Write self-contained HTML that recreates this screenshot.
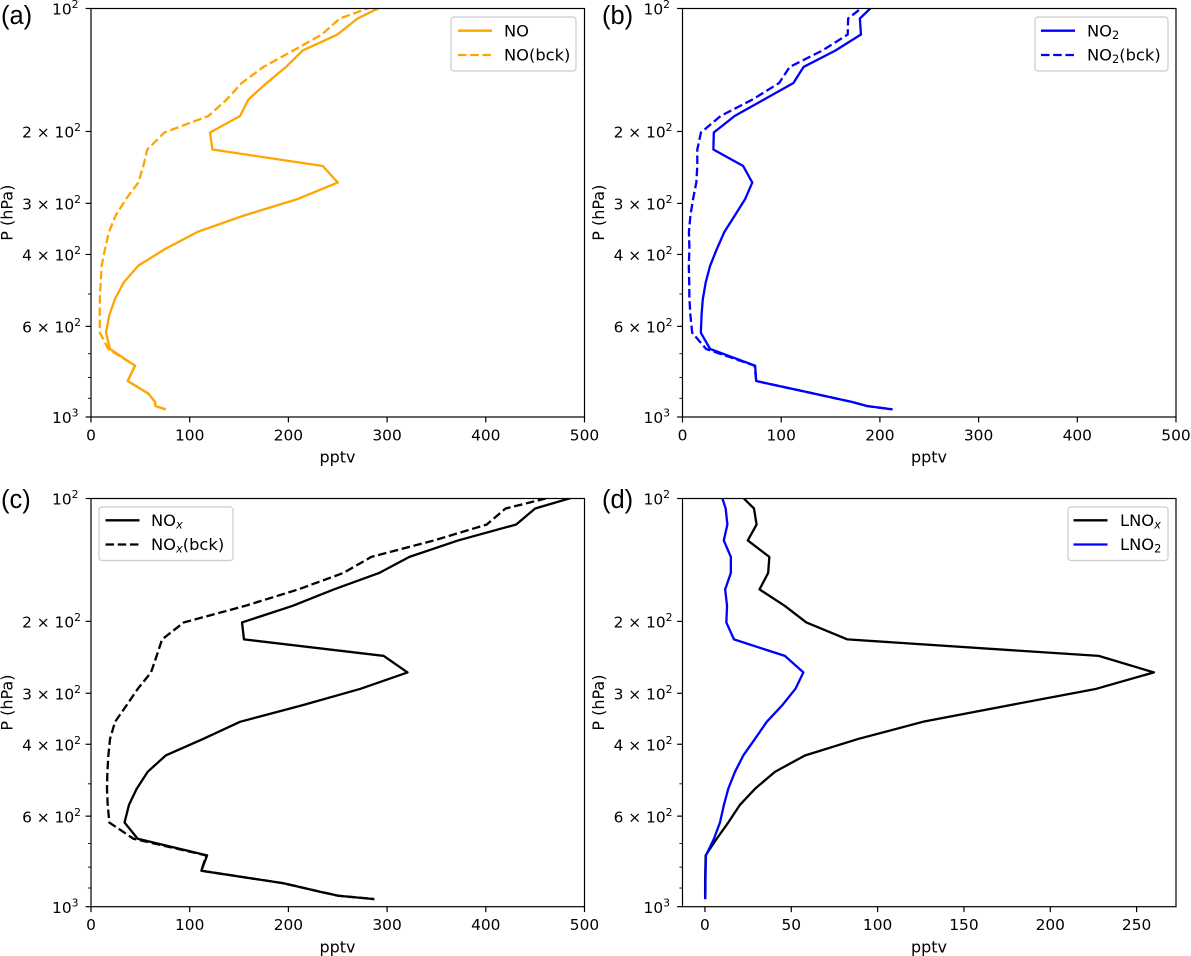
<!DOCTYPE html>
<html lang="en">
<head>
<meta charset="utf-8">
<title>NO, NO2, NOx and LNOx vertical profiles</title>
<style>
html,body{margin:0;padding:0;background:#fff;}
svg{display:block;}
text{font-family:"DejaVu Sans",sans-serif;font-size:15.4px;fill:#000;}
.axis-title{font-size:16px;}
.legend-text{font-size:16.3px;}
.panel-letter{font-family:"Liberation Sans",sans-serif;font-size:25.5px;}
.legend-box{fill:#fff;fill-opacity:.8;stroke:#ccc;stroke-width:1.2;}
.spine{fill:none;stroke:#000;stroke-width:1.2;}
.sub{font-size:11.4px;}
.ital{font-style:italic;}
</style>
</head>
<body>
<svg id="figure" xmlns="http://www.w3.org/2000/svg" width="1191" height="956" viewBox="0 0 1191 956">
  <defs>
    <clipPath id="clip-a"><rect x="91" y="8.5" width="493.5" height="408.5"/></clipPath>
    <clipPath id="clip-b"><rect x="682.5" y="8.5" width="493.5" height="408.5"/></clipPath>
    <clipPath id="clip-c"><rect x="91" y="498.5" width="493.5" height="408.2"/></clipPath>
    <clipPath id="clip-d"><rect x="682.5" y="498.5" width="493.5" height="408.2"/></clipPath>
  </defs>

  <g id="panel-a">
    <text class="panel-letter" x="1" y="24">(a)</text>
    <text class="axis-title" x="337.5" y="462.5" text-anchor="middle">pptv</text>
    <text class="axis-title" transform="translate(12.5 212.7) rotate(-90)" text-anchor="middle">P (hPa)</text>
  </g>
  <g id="panel-b">
    <text class="panel-letter" x="602" y="24">(b)</text>
    <text class="axis-title" x="929" y="462.5" text-anchor="middle">pptv</text>
    <text class="axis-title" transform="translate(604 212.7) rotate(-90)" text-anchor="middle">P (hPa)</text>
  </g>
  <g id="panel-c">
    <text class="panel-letter" x="1" y="508">(c)</text>
    <text class="axis-title" x="337.5" y="952.5" text-anchor="middle">pptv</text>
    <text class="axis-title" transform="translate(12.5 702.6) rotate(-90)" text-anchor="middle">P (hPa)</text>
  </g>
  <g id="panel-d">
    <text class="panel-letter" x="602" y="508">(d)</text>
    <text class="axis-title" x="929" y="952.5" text-anchor="middle">pptv</text>
    <text class="axis-title" transform="translate(604 702.6) rotate(-90)" text-anchor="middle">P (hPa)</text>
  </g>

  <g id="legends">
    <g>
      <rect class="legend-box" x="451" y="17" width="125" height="54" rx="3"/>
      <line x1="458" y1="30.7" x2="492" y2="30.7" stroke="#ffa500" stroke-width="2.3"/>
      <text class="legend-text" x="504" y="36.3">NO</text>
      <line x1="458" y1="55" x2="492" y2="55" stroke="#ffa500" stroke-width="2.3" stroke-dasharray="8.5 3.7"/>
      <text class="legend-text" x="504" y="60.7">NO(bck)</text>
    </g>
    <g>
      <rect class="legend-box" x="1035" y="17" width="133" height="54" rx="3"/>
      <line x1="1041" y1="30.7" x2="1075" y2="30.7" stroke="#0000ff" stroke-width="2.3"/>
      <text class="legend-text" x="1087" y="36.3">NO<tspan class="sub" dy="2.5">2</tspan></text>
      <line x1="1041" y1="55" x2="1075" y2="55" stroke="#0000ff" stroke-width="2.3" stroke-dasharray="8.5 3.7"/>
      <text class="legend-text" x="1087" y="60.7">NO<tspan class="sub" dy="2.5">2</tspan><tspan dy="-2.5">(bck)</tspan></text>
    </g>
    <g>
      <rect class="legend-box" x="99" y="507" width="134" height="53.5" rx="3"/>
      <line x1="105.5" y1="520.3" x2="139.5" y2="520.3" stroke="#000" stroke-width="2.3"/>
      <text class="legend-text" x="151" y="525.8">NO<tspan class="sub ital" dy="2.5">x</tspan></text>
      <line x1="105.5" y1="544.5" x2="139.5" y2="544.5" stroke="#000" stroke-width="2.3" stroke-dasharray="8.5 3.7"/>
      <text class="legend-text" x="151" y="550.2">NO<tspan class="sub ital" dy="2.5">x</tspan><tspan dy="-2.5">(bck)</tspan></text>
    </g>
    <g>
      <rect class="legend-box" x="1068" y="507" width="100" height="53.5" rx="3"/>
      <line x1="1073.5" y1="520.3" x2="1107.5" y2="520.3" stroke="#000" stroke-width="2.3"/>
      <text class="legend-text" x="1120" y="525.8">LNO<tspan class="sub ital" dy="2.5">x</tspan></text>
      <line x1="1073.5" y1="544.5" x2="1107.5" y2="544.5" stroke="#0000ff" stroke-width="2.3"/>
      <text class="legend-text" x="1120" y="550.2">LNO<tspan class="sub" dy="2.5">2</tspan></text>
    </g>
  </g>
</svg>

<script>
// Pressure levels (hPa) shared by all profiles
const pressureLevels = [96.7,105.8,115.8,126.7,139.0,152.2,167.0,183.3,201.2,221.4,243.0,266.7,292.6,321.2,352.4,387.9,426.1,467.3,514.2,562.8,622,681.6,748.8,816.5,876,919,940,958];

// Series values (pptv)
const noValues = [303,270,249.7,214.5,197.6,178,159.5,151,120.6,123,234.8,250,209.5,155,107.8,75,48,33.4,24.3,18.6,15.2,19.3,44.6,37.2,58,65,65.2,75.7];
const noBckValues = [297,252,233.8,205,174.7,152.7,137.5,119,74.3,57,53,48,35.5,25,18.2,14.2,10.8,9.8,9,8.8,9,17.6,44.6,37.2,58,65,65.2,75.7];
const no2Values = [196.5,179.7,180.8,155,122.7,112.4,82.6,52.8,31.7,31.3,61.5,70.7,63.5,53,42.4,34.8,28,23.6,20.6,19.3,18.6,28,73.6,74.7,132.8,172,186.8,212.8];
const no2BckValues = [188.5,167.8,167.4,141.8,108.6,97.9,71,38.6,18.7,15,15,14,10.7,8,6.5,7,6.4,6.8,7,8,9.8,24,73,74.7,132.8,172,186.8,212.8];
const noxValues = [505,450,430.8,372,322.6,292,246,204,153,155,296.6,320.7,273,213.7,151,113.9,75.7,57.4,46.3,38.5,34,47.3,117.6,111.8,195,232,250.7,287];
const noxBckValues = [485,420,401,347.5,284,255.7,210,156,94,72,66.5,60.8,47.4,36,24.4,19.3,17.6,16.6,16.2,16.9,18.6,43,116.6,111.8,195,232,250.7,287];
const lnoxValues = [19,28.4,29.9,24.8,37.3,36.6,31.6,46.3,58.7,82.5,228,260,226.6,176,126.2,89,57.9,40.5,29,20.3,13.5,6.8,0.4,0.2,0.1,0.1,0.1,0.1];
const lno2Values = [9,12,13,10.9,15,15,11.7,12.8,12.4,16.8,46.3,57,52.4,44.7,35.8,29,22.2,17.4,13.5,11,8.7,5.2,0.6,0.4,0.3,0.3,0.2,0.2];

// Axis ticks
const xTicksConc = [0,100,200,300,400,500];
const xTicksLnox = [0,50,100,150,200,250];
const yMajorTicks = [100,200,300,400,600,1000];
const yMajorLabels = [[null,2],[2,2],[3,2],[4,2],[6,2],[null,3]];
const yMinorTicks = [500,700,800,900];

const NS = 'http://www.w3.org/2000/svg';
const panels = [
  {id:'a', left:91, right:584.5, top:8.5, bottom:417, xMin:0, xMax:500, xTicks:xTicksConc,
   series:[{name:'no', v:noValues, color:'#ffa500', dashed:false},{name:'no-bck', v:noBckValues, color:'#ffa500', dashed:true}]},
  {id:'b', left:682.5, right:1176, top:8.5, bottom:417, xMin:0, xMax:500, xTicks:xTicksConc,
   series:[{name:'no2', v:no2Values, color:'#0000ff', dashed:false},{name:'no2-bck', v:no2BckValues, color:'#0000ff', dashed:true}]},
  {id:'c', left:91, right:584.5, top:498.5, bottom:906.7, xMin:0, xMax:500, xTicks:xTicksConc,
   series:[{name:'nox', v:noxValues, color:'#000', dashed:false},{name:'nox-bck', v:noxBckValues, color:'#000', dashed:true}]},
  {id:'d', left:682.5, right:1176, top:498.5, bottom:906.7, xMin:-13, xMax:272.8, xTicks:xTicksLnox,
   series:[{name:'lnox', v:lnoxValues, color:'#000', dashed:false},{name:'lno2', v:lno2Values, color:'#0000ff', dashed:false}]}
];

function tickLine(parent, x1, y1, x2, y2, w) {
  const t = document.createElementNS(NS, 'line');
  t.setAttribute('x1', x1);
  t.setAttribute('y1', y1);
  t.setAttribute('x2', x2);
  t.setAttribute('y2', y2);
  t.setAttribute('stroke', '#000');
  t.setAttribute('stroke-width', w);
  parent.appendChild(t);
  return t;
}

panels.forEach(function (p) {
  const g = document.getElementById('panel-' + p.id);
  const xScale = function (v) { return p.left + (v - p.xMin) / (p.xMax - p.xMin) * (p.right - p.left); };
  const yScale = function (v) { return p.top + Math.log10(v / 100) * (p.bottom - p.top); };

  // series
  p.series.forEach(function (s) {
    const line = document.createElementNS(NS, 'polyline');
    
    
    line.setAttribute('points', pressureLevels.map(function (lev, i) {
      return xScale(s.v[i]).toFixed(2) + ',' + yScale(lev).toFixed(2);
    }).join(' '));
    line.setAttribute('fill', 'none');
    line.setAttribute('stroke', s.color);
    line.setAttribute('stroke-width', '2.3');
    line.setAttribute('stroke-linejoin', 'round');
    if (s.dashed) line.setAttribute('stroke-dasharray', '8.5 3.7');
    line.setAttribute('clip-path', 'url(#clip-' + p.id + ')');
    g.appendChild(line);
  });

  // frame
  const frame = document.createElementNS(NS, 'rect');
  
  
  frame.setAttribute('class', 'spine');
  frame.setAttribute('x', p.left);
  frame.setAttribute('y', p.top);
  frame.setAttribute('width', p.right - p.left);
  frame.setAttribute('height', p.bottom - p.top);
  g.appendChild(frame);

  // x ticks
  p.xTicks.forEach(function (v) {
    const x = xScale(v);
    const mark = tickLine(g, x, p.bottom, x, p.bottom + 5.4, 1.2);
    
    
    const label = document.createElementNS(NS, 'text');
    
    
    label.setAttribute('x', x);
    label.setAttribute('y', p.bottom + 23.5);
    label.setAttribute('text-anchor', 'middle');
    label.textContent = String(v);
    g.appendChild(label);
  });

  // y major ticks
  yMajorTicks.forEach(function (v, i) {
    const y = yScale(v);
    const mark = tickLine(g, p.left - 5.4, y, p.left, y, 1.2);
    
    
    const parts = yMajorLabels[i];
    const label = document.createElementNS(NS, 'text');
    
    
    label.setAttribute('x', p.left - (parts[0] === null ? 12.5 : 10));
    label.setAttribute('y', y + 6.2);
    label.setAttribute('text-anchor', 'end');
    const base = document.createElementNS(NS, 'tspan');
    base.textContent = (parts[0] === null ? '' : parts[0] + ' × ') + '10';
    label.appendChild(base);
    const sup = document.createElementNS(NS, 'tspan');
    sup.setAttribute('dy', '-6.5');
    sup.style.fontSize = '10.8px';
    sup.textContent = String(parts[1]);
    label.appendChild(sup);
    g.appendChild(label);
  });

  // y minor ticks
  yMinorTicks.forEach(function (v) {
    const y = yScale(v);
    const mark = tickLine(g, p.left - 3.1, y, p.left, y, 0.9);
    
    
  });
});
</script>
</body>
</html>
